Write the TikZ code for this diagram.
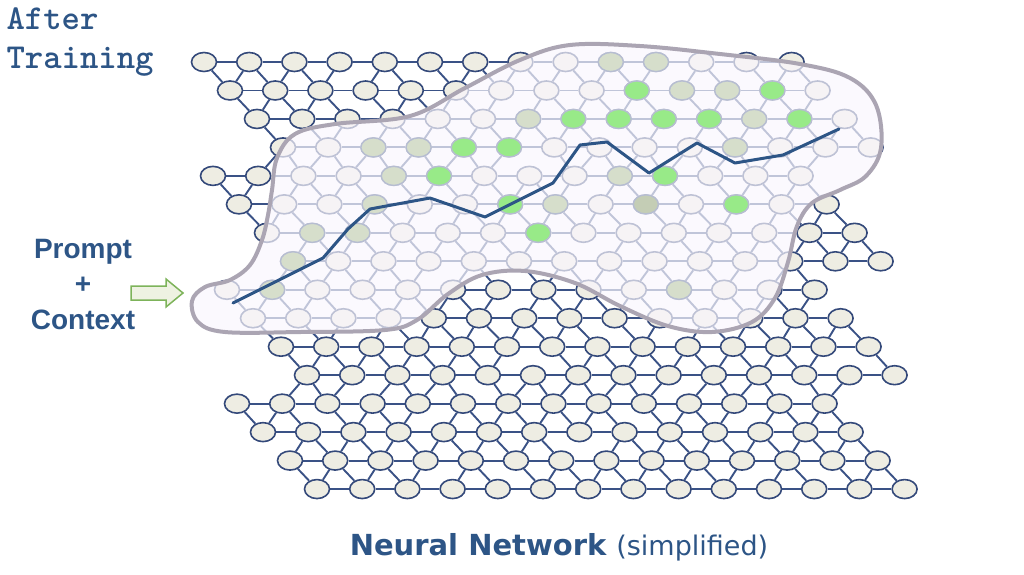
\documentclass[tikz,border=0pt]{standalone}
\usepackage{fontspec}
\newfontfamily\headfont{DejaVu Sans}
\newfontfamily\sidefont{Liberation Sans}
\usetikzlibrary{shapes,calc,positioning}
\definecolor{navy}{HTML}{34497A}
\definecolor{linkblue}{HTML}{3A5286}
\definecolor{cellfill}{HTML}{EEEDE3}
\definecolor{fadeblue}{HTML}{B6BDD1}
\definecolor{leafgreen}{HTML}{98EA88}
\definecolor{sage}{HTML}{D6DECB}
\definecolor{darksage}{HTML}{C4CDB5}
\definecolor{blobtint}{HTML}{FAF6FD}
\definecolor{blobedge}{HTML}{ABA5B3}
\definecolor{textblue}{HTML}{2D5586}
\definecolor{arrowgreen}{HTML}{7DB35A}
\definecolor{arrowfill}{HTML}{EEF2E2}
\pgfdeclarelayer{links}
\pgfdeclarelayer{front}
\pgfsetlayers{links,main,front}

\begin{document}
\begin{tikzpicture}[x=1pt,y=-1pt,
  neuron/.style={ellipse,draw=navy,fill=cellfill,line width=1.6pt,minimum width=25pt,minimum height=19pt,inner sep=0pt},
  link/.style={draw=linkblue,line width=1.9pt},
  lit/.style={neuron,draw=fadeblue,line width=1.3pt},
  trail/.style={draw=textblue,line width=3pt,line join=round,line cap=round}]
\useasboundingbox (0,0) rectangle (1024,574);

% network
\foreach \r/\s in {0/204,1/230,2/257,3/283,4/213,5/239,6/267,7/293,8/227,9/253,10/281,11/307,12/237,13/263,14/290,15/317}{
  \foreach \k in {0,...,13}{
    \node[neuron] (n-\r-\k) at ({\s+45.2*\k},{62+28.47*\r}) {};
  }
}

\begin{pgfonlayer}{links}
\foreach \r in {0,...,15}{
  \foreach \k in {0,...,12}{
    \pgfmathtruncatemacro{\kk}{\k+1}
    \draw[link] (n-\r-\k) -- (n-\r-\kk);
  }
}
\foreach \r in {0,...,14}{
  \pgfmathtruncatemacro{\rr}{\r+1}
  \pgfmathtruncatemacro{\jump}{2*(mod(\r,4)==3)}
  \foreach \k in {0,...,13}{
    \pgfmathtruncatemacro{\ra}{\k+\jump}
    \pgfmathtruncatemacro{\la}{\k+\jump-1}
    \pgfmathtruncatemacro{\skipr}{mod(5*\r+3*\k,7)==2}
    \pgfmathtruncatemacro{\skipl}{mod(3*\r+5*\k,7)==4}
    \ifnum\ra<14 \ifnum\skipr=0 \draw[link] (n-\r-\k) -- (n-\rr-\ra); \fi\fi
    \ifnum\la>-1 \ifnum\la<14 \ifnum\skipl=0 \draw[link] (n-\r-\k) -- (n-\rr-\la); \fi\fi\fi
  }
}
\end{pgfonlayer}

\begin{pgfonlayer}{front}
% trained region
\path[fill=blobtint,fill opacity=0.7,draw=blobedge,line width=4pt]
  plot[smooth cycle,tension=0.6] coordinates {(272,190) (277,158) (295,134) (335,124) (410,116) (465,88) (520,60) (570,45) (640,46) (720,54) (800,64) (850,78) (876,105) (881,148) (866,176) (840,190) (812,203) (797,226) (788,262) (775,298) (752,322) (712,332) (668,326) (620,306) (575,283) (525,271) (482,275) (448,294) (417,320) (385,330) (300,332) (225,332) (198,322) (192,301) (205,287) (230,280) (250,265) (262,240) (268,215)};

\foreach \r/\k in {1/9,1/12,2/7,2/8,2/9,2/10,2/12,3/4,3/5,4/5,4/10,5/6,5/11,6/6}
  \node[lit,fill=leafgreen] (g-\r-\k) at (n-\r-\k) {};
\foreach \r/\k in {0/9,0/10,1/10,1/11,2/6,2/11,3/2,3/3,3/10,4/4,4/9,5/3,5/7,6/1,6/2,7/0,8/1,8/10}
  \node[lit,fill=sage] (s-\r-\k) at (n-\r-\k) {};
\node[lit,fill=darksage] (d-5-9) at (n-5-9) {};

\draw[trail] plot coordinates {(233,303) (323,258) (348,229) (370,209) (430,198) (485,217) (553,183) (580,145) (607,142) (649,173) (697,143) (735,163) (783,155) (839,129)};
\end{pgfonlayer}

% labels
\node[anchor=north west,align=left,text=textblue,font=\fontsize{35}{39}\ttfamily\bfseries] (title) at (3,4) {After\\Training};
\node[align=center,text=textblue,font=\fontsize{28}{35.5}\sidefont\bfseries] (input) at (83,284) {Prompt\\+\\Context};
\draw[draw=arrowgreen,fill=arrowfill,line width=1.5pt,line join=miter]
  (131,286) -- (166,286) -- (166,279) -- (183,293) -- (166,307) -- (166,300) -- (131,300) -- cycle;
\node[anchor=base,text=textblue,font=\headfont] (caption) at (559,555)
  {{\fontsize{29}{32}\selectfont\bfseries Neural Network}\hspace{10pt}{\fontsize{27}{32}\selectfont(simplified)}};

\end{tikzpicture}
\end{document}
